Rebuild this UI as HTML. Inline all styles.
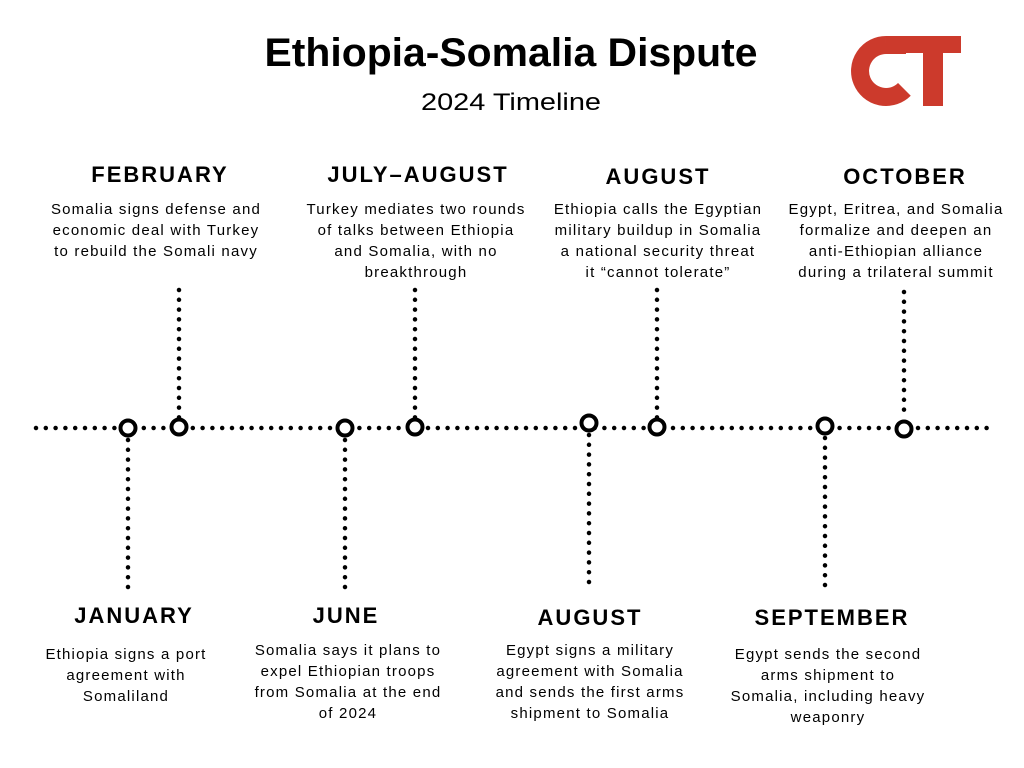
<!DOCTYPE html>
<html><head><meta charset="utf-8"><style>
html,body{margin:0;padding:0;background:#fff;}
svg{display:block;}
.h{font-family:"Liberation Sans",sans-serif;font-weight:bold;font-size:22px;letter-spacing:2px;text-anchor:middle;fill:#000;}
.b{font-family:"Liberation Sans",sans-serif;font-size:15px;letter-spacing:1.2px;text-anchor:middle;fill:#000;}
.d{stroke:#000;stroke-width:4.5;stroke-linecap:round;stroke-dasharray:0 9.8;fill:none;}
.c{stroke:#000;stroke-width:4;fill:#fff;}
</style></head><body>
<svg width="1024" height="768" viewBox="0 0 1024 768" xmlns="http://www.w3.org/2000/svg">
<rect width="1024" height="768" fill="#fff"/>
<text x="511" y="66" font-family="Liberation Sans, sans-serif" font-weight="bold" font-size="40" text-anchor="middle" textLength="493" lengthAdjust="spacingAndGlyphs">Ethiopia-Somalia Dispute</text>
<text x="511" y="110" font-family="Liberation Sans, sans-serif" font-size="24" text-anchor="middle" textLength="180" lengthAdjust="spacingAndGlyphs">2024 Timeline</text>
<!-- logo -->
<path d="M886 45 A26 26 0 1 0 904.4 89.4" stroke="#cc3a2c" stroke-width="18" fill="none"/>
<rect x="886" y="36" width="20" height="18" fill="#cc3a2c"/>
<rect x="895" y="36" width="66" height="17" fill="#cc3a2c"/>
<rect x="923" y="36" width="20" height="70" fill="#cc3a2c"/>
<!-- lines -->
<line class="d" x1="36" y1="428" x2="990" y2="428"/>
<line class="d" x1="179" y1="290" x2="179" y2="418"/>
<line class="d" x1="415" y1="290" x2="415" y2="418"/>
<line class="d" x1="657" y1="290" x2="657" y2="418"/>
<line class="d" x1="904" y1="292" x2="904" y2="418"/>
<line class="d" x1="128" y1="440" x2="128" y2="592"/>
<line class="d" x1="345" y1="440" x2="345" y2="592"/>
<line class="d" x1="589" y1="435" x2="589" y2="587"/>
<line class="d" x1="825" y1="438" x2="825" y2="590"/>
<circle class="c" cx="128" cy="428" r="7.5"/>
<circle class="c" cx="179" cy="427" r="7.5"/>
<circle class="c" cx="345" cy="428" r="7.5"/>
<circle class="c" cx="415" cy="427" r="7.5"/>
<circle class="c" cx="589" cy="423" r="7.5"/>
<circle class="c" cx="657" cy="427" r="7.5"/>
<circle class="c" cx="825" cy="426" r="7.5"/>
<circle class="c" cx="904" cy="429" r="7.5"/>
<!-- top texts -->
<text class="h" x="160" y="182">FEBRUARY</text>
<text class="b" x="156" y="214">Somalia signs defense and</text>
<text class="b" x="156" y="235">economic deal with Turkey</text>
<text class="b" x="156" y="256">to rebuild the Somali navy</text>

<text class="h" x="418" y="182">JULY–AUGUST</text>
<text class="b" x="416" y="214">Turkey mediates two rounds</text>
<text class="b" x="416" y="235">of talks between Ethiopia</text>
<text class="b" x="416" y="256">and Somalia, with no</text>
<text class="b" x="416" y="277">breakthrough</text>

<text class="h" x="658" y="184">AUGUST</text>
<text class="b" x="658" y="214">Ethiopia calls the Egyptian</text>
<text class="b" x="658" y="235">military buildup in Somalia</text>
<text class="b" x="658" y="256">a national security threat</text>
<text class="b" x="658" y="277">it “cannot tolerate”</text>

<text class="h" x="905" y="184">OCTOBER</text>
<text class="b" x="896" y="214">Egypt, Eritrea, and Somalia</text>
<text class="b" x="896" y="235">formalize and deepen an</text>
<text class="b" x="896" y="256">anti-Ethiopian alliance</text>
<text class="b" x="896" y="277">during a trilateral summit</text>
<!-- bottom texts -->
<text class="h" x="134" y="623">JANUARY</text>
<text class="b" x="126" y="659">Ethiopia signs a port</text>
<text class="b" x="126" y="680">agreement with</text>
<text class="b" x="126" y="701">Somaliland</text>

<text class="h" x="346" y="623">JUNE</text>
<text class="b" x="348" y="655">Somalia says it plans to</text>
<text class="b" x="348" y="676">expel Ethiopian troops</text>
<text class="b" x="348" y="697">from Somalia at the end</text>
<text class="b" x="348" y="718">of 2024</text>

<text class="h" x="590" y="625">AUGUST</text>
<text class="b" x="590" y="655">Egypt signs a military</text>
<text class="b" x="590" y="676">agreement with Somalia</text>
<text class="b" x="590" y="697">and sends the first arms</text>
<text class="b" x="590" y="718">shipment to Somalia</text>

<text class="h" x="832" y="625">SEPTEMBER</text>
<text class="b" x="828" y="659">Egypt sends the second</text>
<text class="b" x="828" y="680">arms shipment to</text>
<text class="b" x="828" y="701">Somalia, including heavy</text>
<text class="b" x="828" y="722">weaponry</text>
</svg>
</body></html>
